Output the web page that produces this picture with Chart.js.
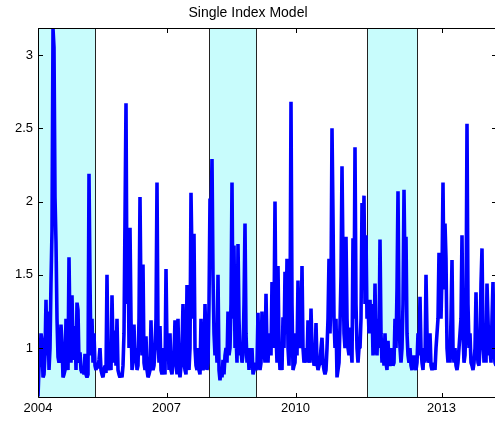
<!DOCTYPE html>
<html>
<head>
<meta charset="utf-8">
<script src="https://cdn.jsdelivr.net/npm/chart.js@4.4.0/dist/chart.umd.min.js"></script>
<style>
  html, body { margin: 0; padding: 0; background: #fff; overflow: hidden; }
  canvas { display: block; }
</style>
</head>
<body>
<canvas id="simChart" width="500" height="423"></canvas>
<script>
// observation index -> year tick labels
const yearTickIndex = [0, 128.5, 257.5, 403.5];
const yearTickLabels = ['2004', '2007', '2010', '2013'];
const yTickValues = [1, 1.5, 2, 2.5, 3];

// shaded periods (start, end) in observation index
const shadedPeriods = [[0, 57], [171, 218], [329, 379]];

const ratio = [
  0.67,0.87,0.9,1.10,1.05,0.80,0.82,0.95,1.33,0.95,
  1.25,0.85,1.0,1.45,1.80,3.18,3.05,2.03,1.72,1.2,
  0.94,0.90,1.0,1.16,1.03,0.80,0.82,0.85,1.2,0.95,
  0.85,1.62,1.1,0.9,1.36,1.0,0.92,1.15,0.85,1.31,
  1.26,0.9,0.97,0.85,0.83,0.87,0.82,0.96,0.82,0.80,
  0.82,2.19,1.45,0.95,1.2,0.9,1.1,0.88,0.85,0.9,
  0.86,0.92,1.0,0.85,0.82,0.80,0.85,0.88,0.83,1.50,
  0.9,0.85,0.88,0.85,1.36,1.0,0.9,1.12,0.88,1.2,
  0.85,0.82,0.80,0.82,0.80,0.88,1.1,1.88,2.67,1.3,
  1.75,1.0,1.82,1.2,0.85,0.9,1.16,0.9,1.0,0.85,
  0.88,1.2,2.03,1.3,0.95,1.57,0.9,0.85,1.08,0.85,
  0.80,0.82,0.85,1.19,0.9,0.85,0.88,1.0,1.2,2.13,
  1.1,0.9,1.15,0.85,0.82,1.0,0.85,0.82,1.54,1.0,
  1.1,0.85,1.1,0.85,0.82,0.9,0.95,1.19,0.9,0.82,
  1.2,0.85,0.8,0.88,1.0,1.3,0.9,0.85,0.82,1.43,
  0.9,0.85,1.0,2.06,1.6,1.2,1.78,1.0,0.88,0.85,
  1.0,0.85,0.82,1.2,0.9,0.85,0.88,1.3,1.0,0.85,
  0.9,1.3,2.02,1.85,2.29,1.5,1.1,0.95,1.1,0.9,
  1.50,0.85,0.78,0.85,0.80,0.92,0.82,0.95,1.0,0.9,
  1.25,0.95,1.0,1.3,2.13,1.2,1.70,1.0,1.1,0.9,
  1.71,1.2,0.95,1.0,0.9,0.95,1.3,1.85,1.1,0.9,
  1.0,0.85,1.0,0.9,1.0,0.82,0.85,0.9,0.85,0.88,
  1.24,0.9,0.85,0.9,1.25,0.95,1.0,0.9,1.37,1.0,
  0.9,1.1,1.0,0.95,1.45,1.0,1.2,2.0,1.1,0.9,
  1.56,1.0,0.85,0.9,0.85,1.21,1.0,1.52,1.1,1.61,
  1.0,0.88,1.2,2.68,1.3,0.85,0.88,0.9,1.1,0.95,
  1.46,1.0,1.15,1.0,1.56,1.0,0.9,0.95,1.0,0.9,
  1.19,0.95,0.9,1.27,1.0,1.0,0.88,0.9,1.17,0.9,
  0.85,0.88,0.9,1.0,1.07,0.9,0.85,0.82,0.85,1.0,
  1.2,1.61,1.1,1.4,2.50,1.9,1.2,1.0,1.2,0.8,
  0.85,0.9,1.16,1.49,2.24,1.6,1.1,1.0,1.76,1.2,
  1.0,0.95,1.14,1.0,0.9,1.75,1.2,2.37,1.3,1.0,
  0.9,1.0,1.0,1.2,1.99,1.5,2.04,1.3,1.77,1.2,
  1.3,1.1,1.33,1.1,1.3,0.95,1.0,1.44,1.0,0.95,
  1.2,1.0,1.74,1.1,0.9,1.0,0.88,1.1,0.9,0.85,
  1.05,0.9,0.88,0.9,1.0,0.88,0.9,1.2,1.0,1.4,
  2.07,1.2,1.0,0.9,1.0,1.3,2.08,1.5,1.76,1.1,
  0.95,0.9,1.0,0.88,0.85,0.9,0.95,0.88,0.85,0.9,
  1.1,0.95,1.35,1.0,0.9,0.85,1.0,0.9,1.50,1.1,
  0.95,0.9,1.1,0.88,0.85,0.88,0.9,0.85,1.0,1.1,
  1.2,1.65,1.3,1.2,1.5,2.13,1.4,1.85,1.61,1.0,
  0.9,1.0,0.9,1.2,1.60,1.0,0.9,1.0,0.88,0.85,
  0.9,1.0,1.1,1.2,1.77,1.1,0.9,0.95,1.2,2.53,
  1.3,1.0,1.1,0.9,0.88,0.85,0.9,1.0,1.38,1.0,
  0.9,0.88,1.0,1.44,1.68,1.1,0.9,1.0,0.9,1.44,
  1.2,0.95,1.0,0.9,1.2,1.45,1.0,0.9,0.88
];

const FONT = 'Liberation Sans, Arial, Helvetica, sans-serif';

// cyan bands behind the line
const shadePlugin = {
  id: 'shade',
  beforeDatasetsDraw(chart) {
    const { ctx, chartArea: a, scales: { x } } = chart;
    ctx.save();
    shadedPeriods.forEach(([s, e]) => {
      const x0 = Math.round(x.getPixelForValue(s));
      const x1 = Math.round(x.getPixelForValue(e));
      ctx.fillStyle = '#c8fcfc';
      ctx.fillRect(x0, a.top, x1 - x0, a.bottom - a.top);
      ctx.strokeStyle = '#222';
      ctx.lineWidth = 1;
      ctx.beginPath();
      ctx.moveTo(x0 + 0.5, a.top); ctx.lineTo(x0 + 0.5, a.bottom);
      ctx.moveTo(x1 + 0.5, a.top); ctx.lineTo(x1 + 0.5, a.bottom);
      ctx.stroke();
    });
    ctx.restore();
  }
};

// matlab style box with inward ticks
const boxPlugin = {
  id: 'box',
  afterDatasetsDraw(chart) {
    const { ctx, chartArea: a, scales: { x, y } } = chart;
    const tl = 4.5;
    const L = Math.round(a.left) + 0.5, R = Math.round(a.right) + 0.5;
    const T = Math.round(a.top) + 0.5, B = Math.round(a.bottom) + 0.5;
    ctx.save();
    ctx.strokeStyle = '#000';
    ctx.lineWidth = 1;
    ctx.beginPath();
    ctx.moveTo(L, T); ctx.lineTo(R, T); ctx.lineTo(R, B); ctx.lineTo(L, B); ctx.closePath();
    yearTickIndex.forEach(v => {
      const px = Math.round(x.getPixelForValue(v)) + 0.5;
      ctx.moveTo(px, T); ctx.lineTo(px, T + tl);
      ctx.moveTo(px, B); ctx.lineTo(px, B - tl);
    });
    yTickValues.forEach(v => {
      const py = Math.round(y.getPixelForValue(v)) + 0.5;
      ctx.moveTo(L, py); ctx.lineTo(L + tl, py);
      ctx.moveTo(R, py); ctx.lineTo(R - tl, py);
    });
    ctx.stroke();
    ctx.restore();
  }
};

new Chart(document.getElementById('simChart'), {
  type: 'line',
  data: {
    datasets: [{
      data: ratio.map((v, i) => ({ x: i, y: v })),
      borderColor: '#0000ff',
      borderWidth: 3.6,
      borderJoinStyle: 'bevel',
      borderCapStyle: 'butt',
      pointRadius: 0,
      tension: 0,
      fill: false
    }]
  },
  options: {
    responsive: false,
    animation: false,
    devicePixelRatio: 1,
    layout: { padding: { left: 0, right: 4, top: 0, bottom: 0 } },
    plugins: {
      legend: { display: false },
      tooltip: { enabled: false },
      title: {
        display: true,
        text: 'Single Index Model',
        color: '#000',
        font: { family: FONT, size: 14, weight: 'normal' },
        padding: { top: 4.6, bottom: 6.6 }
      }
    },
    scales: {
      x: {
        type: 'linear',
        min: 0,
        max: ratio.length - 1,
        border: { display: false },
        grid: { display: false, drawTicks: false },
        afterBuildTicks: s => { s.ticks = yearTickIndex.map(v => ({ value: v })); },
        afterFit: s => { s.height = 26; },
        ticks: {
          autoSkip: false,
          maxRotation: 0,
          padding: 4,
          color: '#000',
          font: { family: FONT, size: 13 },
          callback: (v, i) => yearTickLabels[i]
        }
      },
      y: {
        min: 0.666,
        max: 3.184,
        border: { display: false },
        grid: { display: false, drawTicks: false },
        afterBuildTicks: s => { s.ticks = yTickValues.map(v => ({ value: v })); },
        afterFit: s => { s.width = 38; },
        ticks: {
          padding: 5,
          color: '#000',
          font: { family: FONT, size: 13 },
          callback: v => String(v)
        }
      }
    }
  },
  plugins: [shadePlugin, boxPlugin]
});
</script>
</body>
</html>
